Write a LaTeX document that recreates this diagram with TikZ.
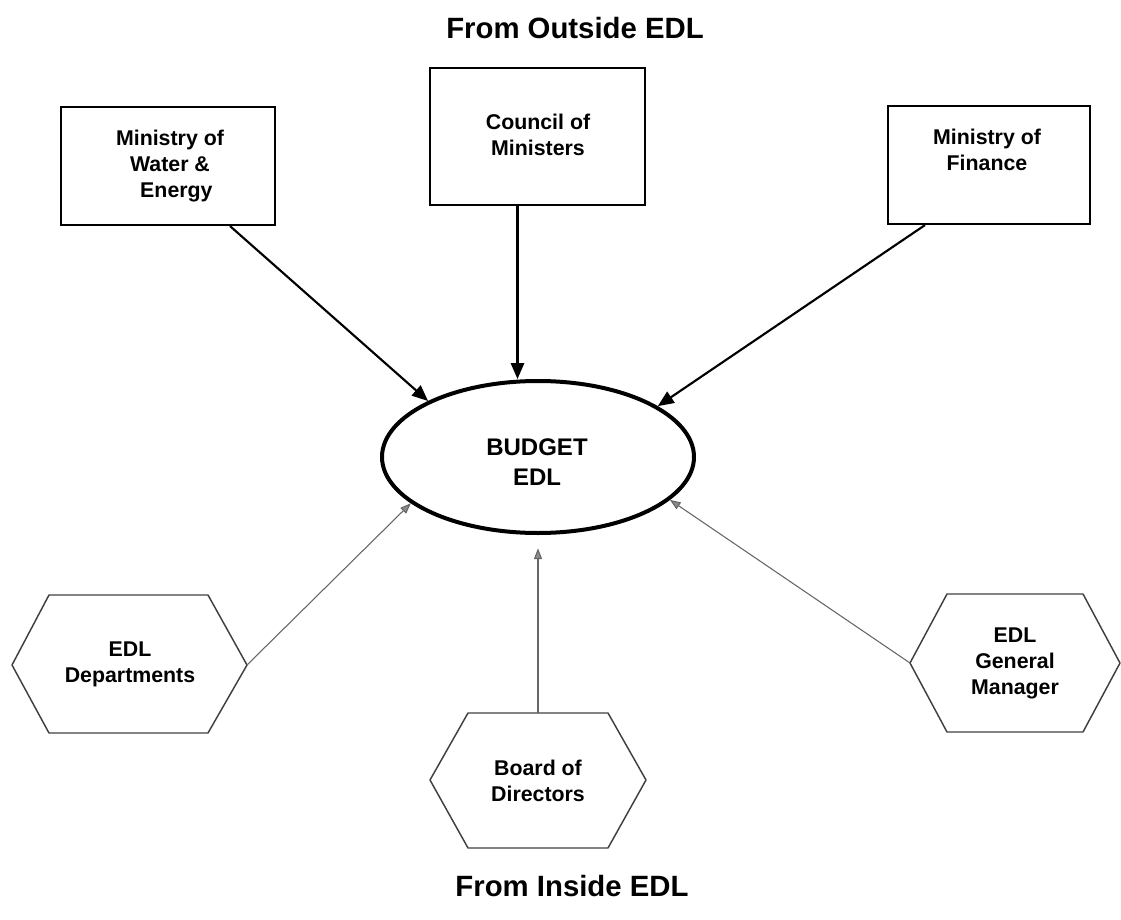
\documentclass[tikz,border=0pt]{standalone}
\usepackage{fontspec}
\setmainfont{Liberation Sans}
\usetikzlibrary{arrows.meta,shapes.geometric,calc}
\begin{document}
\begin{tikzpicture}[x=0.75pt,y=-0.75pt,
  title/.style={font=\fontsize{22}{26}\selectfont\bfseries},
  lbl/.style={font=\fontsize{16}{19.5}\selectfont\bfseries,align=center},
  box/.style={draw,line width=1.6pt,inner sep=0pt},
  hexa/.style={draw=black!75,line width=1.1pt,line join=round},
  outarrow/.style={line width=1.6pt,-{Triangle[length=12pt,width=10pt]}},
  inarrow/.style={draw=black!60,line width=0.8pt,-{Triangle[length=8pt,width=6pt,fill=black!45]}}]
\useasboundingbox (0,0) rectangle (1121,920);

% titles
\node[title] (ttop) at (575,28) {From Outside EDL};
\node[title] (tbot) at (572,886) {From Inside EDL};

% outside boxes
\node[box,minimum width=160.5pt,minimum height=88.5pt] (mowe) at (168,166) {};
\node[lbl] (mowet) at (170,166) {Ministry of\\Water \&\\\hspace*{0.6em}Energy};
\node[box,minimum width=161.25pt,minimum height=102.75pt] (coun) at (537.5,136.5) {};
\node[lbl] (count) at (538,135) {Council of\\Ministers};
\node[box,minimum width=151.5pt,minimum height=88.5pt] (fin) at (989,165) {};
\node[lbl] (fint) at (987,150) {Ministry of\\Finance};

% budget ellipse
\node[draw,ellipse,line width=3pt,minimum width=234pt,minimum height=114pt,inner sep=0pt] (bud) at (538,457) {};
\node[font=\fontsize{18}{22.5}\selectfont\bfseries,align=center] (budt) at (537,462) {BUDGET\\EDL};

% inside hexagons
\draw[hexa] (12,665) coordinate (dep-l) -- (49,595) -- (208,595) -- (247,665) coordinate (dep-r) -- (208,733) -- (49,733) -- cycle;
\node[lbl] (dep) at (130,664) {EDL\\Departments};
\draw[hexa] (430,780) -- (468,713) -- (538,713) coordinate (brd-t) -- (608,713) -- (646,780) -- (608,848) -- (468,848) -- cycle;
\node[lbl] (brd) at (538,781) {Board of\\Directors};
\draw[hexa] (910,663) coordinate (gm-l) -- (947,594) -- (1083,594) -- (1120,663) -- (1083,732) -- (947,732) -- cycle;
\node[lbl] (gm) at (1015,663) {EDL\\General\\Manager};

% outside arrows
\draw[outarrow] ($(mowe.south)+(62,0)$) -- (bud.153.8);
\coordinate (counout) at ($(coun.south)+(-20,0)$);
\draw[outarrow] (counout) -- (counout |- bud.north);
\draw[outarrow] ($(fin.south)+(-64,0)$) -- (bud.23);

% inside arrows
\draw[inarrow] (dep-r) -- (bud.200);
\draw[inarrow,shorten >=10pt] (brd-t) -- (bud.south);
\draw[inarrow] (gm-l) -- (bud.-18);
\end{tikzpicture}
\end{document}
